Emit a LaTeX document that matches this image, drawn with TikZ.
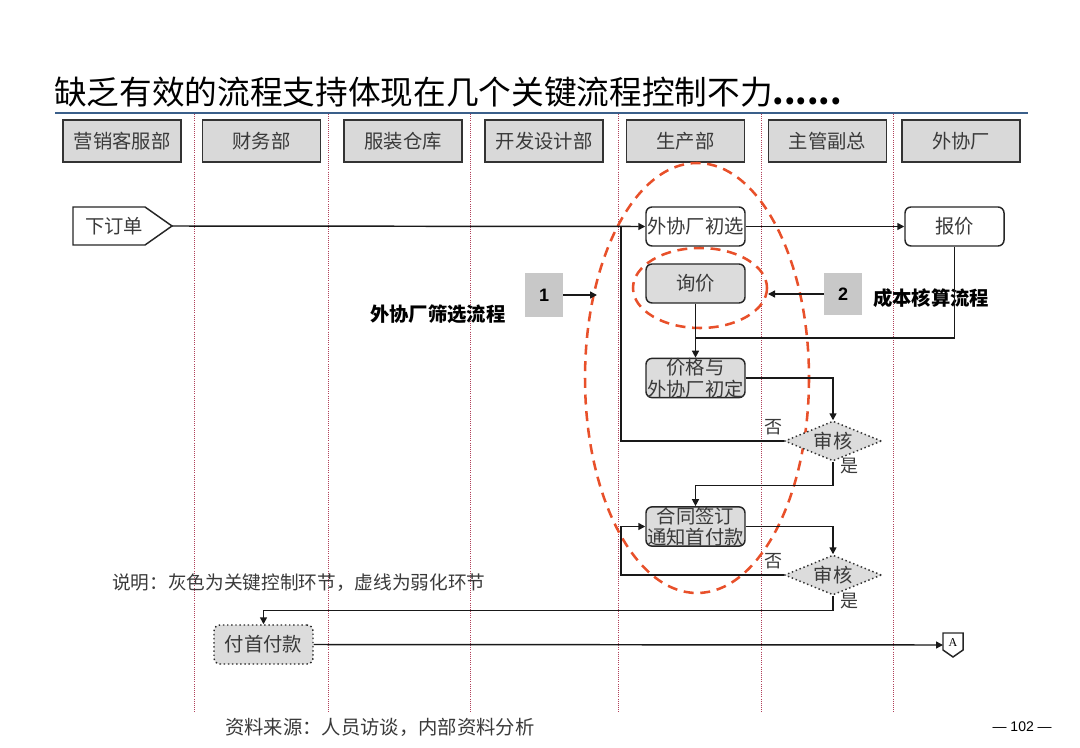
\documentclass[tikz,border=0pt]{standalone}
\usepackage{fontspec}
\setmainfont{Noto Sans CJK SC}
\newfontfamily\latin{Liberation Sans}
\newfontfamily\serifl{Liberation Serif}
\usetikzlibrary{arrows.meta,shapes.geometric}
\definecolor{hdrfill}{HTML}{D9D9D9}
\definecolor{keyfill}{HTML}{DCDCDC}
\definecolor{numfill}{HTML}{C8C8C8}
\definecolor{sepcol}{HTML}{B0405A}
\definecolor{redell}{HTML}{E8502A}
\definecolor{rulecol}{HTML}{3A5F8A}
\definecolor{txt}{HTML}{3A3A3A}
\tikzset{
  hdr/.style={draw=black!80, line width=1.4pt, fill=hdrfill, minimum width=88.5pt, minimum height=31.5pt, inner sep=0pt, text=txt, font=\fontsize{14.5}{16}\selectfont},
  sepline/.style={sepcol, line width=0.6pt, densely dotted},
  procbox/.style={draw=black!85, line width=1.1pt, rounded corners=4.5pt, minimum width=74.25pt, minimum height=29.25pt, inner sep=0pt, text=txt, font=\fontsize{14.5}{16}\selectfont, align=center},
  keybox/.style={procbox, fill=keyfill},
  weakbox/.style={procbox, fill=keyfill, dotted, line width=1.1pt},
  decide/.style={diamond, draw=black!80, dotted, line width=1.1pt, fill=keyfill, minimum width=72.75pt, minimum height=30pt, aspect=2.4, inner sep=0pt, text=txt, font=\fontsize{14.5}{16}\selectfont},
  numbox/.style={fill=numfill, minimum width=28.5pt, minimum height=32.25pt, inner sep=0pt, font=\latin\bfseries\fontsize{13.5}{15}\selectfont},
  conn/.style={black!90, line width=1.1pt},
  arr/.style={conn, -{Triangle[length=5.25pt,width=5.25pt]}},
  lbl/.style={text=txt, font=\fontsize{13.5}{15}\selectfont, inner sep=0pt},
  redring/.style={redell, line width=1.9pt, dash pattern=on 7.5pt off 5pt},
}
\begin{document}
\begin{tikzpicture}[x=0.75pt,y=-0.75pt]
\useasboundingbox (0,0) rectangle (1080,748);
% title
\node[anchor=west, inner sep=0pt, font=\fontsize{24.5}{26}\selectfont] (title) at (54,92) {缺乏有效的流程支持体现在几个关键流程控制不力\textbf{......}};
\draw[rulecol, line width=1.1pt] (55,113) -- (1028,113);
% lane separators
\foreach \x in {194,328,470,618,761,893} \draw[sepline] (\x,114) -- (\x,712);
% lane headers
\node[hdr] (h1) at (122,141) {营销客服部};
\node[hdr] (h2) at (261.5,141) {财务部};
\node[hdr] (h3) at (403,141) {服装仓库};
\node[hdr] (h4) at (544,141) {开发设计部};
\node[hdr] (h5) at (685.5,141) {生产部};
\node[hdr] (h6) at (827.5,141) {主管副总};
\node[hdr] (h7) at (961,141) {外协厂};
% order (pentagon)
\draw[black!85, line width=1.1pt, fill=white] (73,207) -- (145,207) -- (172,226) -- (145,245) -- (73,245) -- cycle;
\node[text=txt, font=\fontsize{14.5}{16}\selectfont, inner sep=0pt] (order) at (114,226) {下订单};
\coordinate (orderTip) at (172,226);
% red rings
\draw[redring] (697,378) ellipse [x radius=112, y radius=215];
\draw[redring] (700,288) ellipse [x radius=67, y radius=40];
% process boxes
\node[procbox, fill=white] (sel) at (695.5,226.5) {外协厂初选};
\node[procbox, fill=white] (quote) at (954.5,226.5) {报价};
\node[keybox] (inq) at (695.5,283.5) {询价};
\node[keybox] (price) at (695.5,378) {价格与\\外协厂初定};
\node[decide] (d1) at (833,441) {审核};
\node[keybox] (contract) at (695.5,526.5) {合同签订\\通知首付款};
\node[decide] (d2) at (833,575) {审核};
\node[weakbox] (pay) at (263.5,644.5) {付首付款};
% off-page connector A
\draw[black!85, line width=1.1pt, fill=white] (943,633) -- (963,633) -- (963,650) -- (953,657) -- (943,650) -- cycle;
\node[inner sep=0pt, font=\serifl\fontsize{9}{10}\selectfont] (A) at (953,643) {A};
\coordinate (Ain) at (943,645);
% numbered markers
\node[numbox] (n1) at (544,295) {1};
\node[numbox, minimum height=31.5pt] (n2) at (843,294) {2};
\coordinate (n1t) at (597,295);
\coordinate (n2t) at (768,294);
\draw[arr] (n1.east) -- (n1t);
\draw[arr] (n2.west) -- (n2t);
\node[anchor=west, inner sep=0pt, font=\bfseries\fontsize{14.5}{16}\selectfont] (t1) at (370,314) {外协厂筛选流程};
\node[anchor=west, inner sep=0pt, font=\bfseries\fontsize{14.5}{16}\selectfont] (t2) at (873,298) {成本核算流程};
% connectors
\coordinate (loop1) at (621,226);
\coordinate (loop2) at (621,575);
\coordinate (j1) at (695.5,338);
\draw[arr] (orderTip) -- (sel.west);
\draw[arr] (sel.east) -- (quote.west);
\draw[arr] (inq.south) -- (price.north);
\draw[conn] (quote.south) |- (j1);
\draw[arr] (price.east) -| (d1.north);
\draw[conn] (d1.west) -| (loop1);
\draw[arr] (d1.south) -- ++(0,24) -| (contract.north);
\draw[arr] (contract.east) -| (d2.north);
\draw[arr] (d2.west) -- (loop2) |- (contract.west);
\draw[arr] (d2.south) -- ++(0,15) -| (pay.north);
\draw[arr] (pay.east) -- (Ain);
% yes/no labels
\node[lbl] (no1) at (773,427) {否};
\node[lbl] (yes1) at (849,466) {是};
\node[lbl] (no2) at (773,561) {否};
\node[lbl] (yes2) at (849,601) {是};
% notes
\node[anchor=west, inner sep=0pt, text=txt, font=\fontsize{14}{16}\selectfont] (note) at (112,583) {说明：灰色为关键控制环节，虚线为弱化环节};
\node[anchor=west, inner sep=0pt, text=txt, font=\fontsize{14.5}{16}\selectfont] (src) at (225,727) {资料来源：人员访谈，内部资料分析};
\node[anchor=east, inner sep=0pt, font=\latin\fontsize{10.5}{12}\selectfont] (page) at (1052,727) {— 102 —};
\end{tikzpicture}
\end{document}
